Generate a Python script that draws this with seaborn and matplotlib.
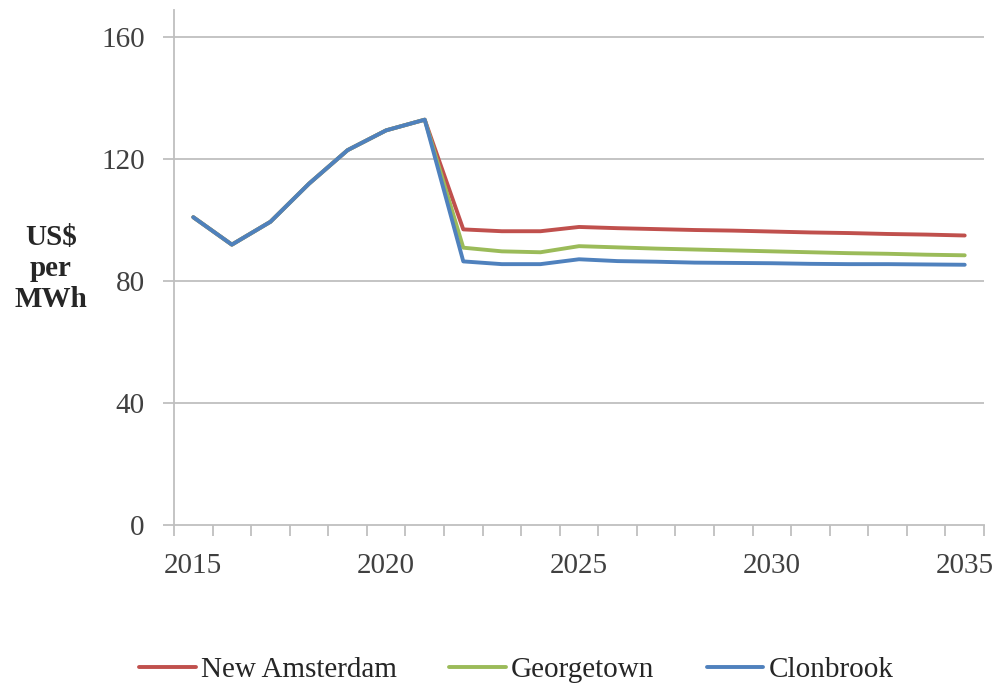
import numpy as np
import pandas as pd
import matplotlib
matplotlib.use("Agg")
import matplotlib.pyplot as plt
import seaborn as sns

# Projected power price, US$ per MWh
years = list(range(2015, 2036))
new_amsterdam = [101, 92, 99.5, 112, 123, 129.5, 133,
                 97, 96.4, 96.4, 97.8, 97.4, 97.1, 96.8, 96.6, 96.3,
                 96.0, 95.8, 95.5, 95.3, 95.0]
georgetown = [101, 92, 99.5, 112, 123, 129.5, 133,
              91.0, 89.8, 89.5, 91.5, 91.1, 90.7, 90.4, 90.1, 89.8,
              89.5, 89.2, 89.0, 88.7, 88.5]
clonbrook = [101, 92, 99.5, 112, 123, 129.5, 133,
             86.5, 85.6, 85.6, 87.2, 86.6, 86.4, 86.1, 86.0, 85.9,
             85.7, 85.6, 85.6, 85.5, 85.4]

series_names = ["New Amsterdam", "Georgetown", "Clonbrook"]
series_colors = ["#C0504D", "#9BBB59", "#4F81BD"]
y_ticks = [0, 40, 80, 120, 160]
x_labels = [2015, 2020, 2025, 2030, 2035]

df = pd.DataFrame({
    "year": years * 3,
    "price": new_amsterdam + georgetown + clonbrook,
    "city": [series_names[0]] * len(years)
            + [series_names[1]] * len(years)
            + [series_names[2]] * len(years),
})

sns.set_style("white")
plt.rcParams["font.family"] = ["Liberation Serif", "DejaVu Serif"]

FS = 21
fig = plt.figure(figsize=(10, 6.83), dpi=100)
ax = fig.add_axes([0.174, 0.2313, 0.810, 0.7541])

grid_color = "#BFBFBF"
for v in y_ticks[1:]:
    ax.axhline(v, color=grid_color, lw=1.3, zorder=0)

sns.lineplot(data=df, x="year", y="price", hue="city",
             hue_order=series_names, palette=series_colors,
             linewidth=2.8, ax=ax, legend=True, zorder=3)

ax.set_xlim(2014.5, 2035.5)
ax.set_ylim(0, 169)

ax.set_yticks(y_ticks)
ax.set_yticklabels([str(v) for v in y_ticks])
ax.set_xticks(x_labels)
ax.set_xticklabels([str(v) for v in x_labels])
ax.set_xticks(np.arange(2014.5, 2036, 1.0), minor=True)

ax.tick_params(axis="y", which="major", direction="out", length=8,
               width=1.3, color=grid_color, labelsize=FS,
               labelcolor="#404040", pad=13, left=True)
ax.tick_params(axis="x", which="major", length=0, labelsize=FS,
               labelcolor="#404040", pad=20)
ax.tick_params(axis="x", which="minor", direction="out", length=8,
               width=1.3, color=grid_color, bottom=True)

for side in ["top", "right"]:
    ax.spines[side].set_visible(False)
for side in ["left", "bottom"]:
    ax.spines[side].set_color(grid_color)
    ax.spines[side].set_linewidth(1.3)

ax.set_xlabel("")
ax.set_ylabel("")

fig.text(0.051, 0.607, "US$\nper\nMWh", ha="center", va="center",
         fontsize=FS, fontweight="bold", color="#262626", linespacing=1.2)

handles, labels = ax.get_legend_handles_labels()
ax.legend_.remove()
fig.legend(handles, labels, loc="center", bbox_to_anchor=(0.516, 0.019),
           ncol=3, frameon=False, fontsize=FS, handlelength=1.95,
           handletextpad=0.17, columnspacing=1.8)
for text in fig.legends[0].get_texts():
    text.set_color("#262626")

fig.savefig("out.png", dpi=100)
